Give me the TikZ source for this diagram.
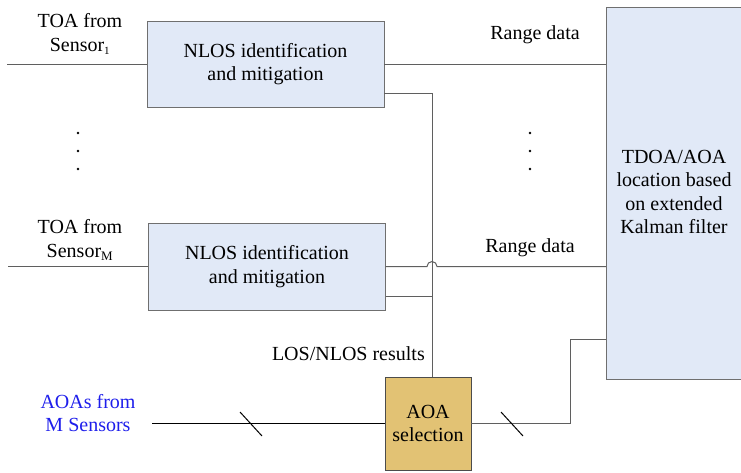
\documentclass[tikz,border=0pt]{standalone}
\usepackage{fontspec}
\setmainfont{Liberation Serif}
\usepackage{xcolor}
\definecolor{boxblue}{RGB}{225,233,247}
\definecolor{boxgold}{RGB}{226,194,116}
\definecolor{wire}{RGB}{95,95,95}
\definecolor{aoablue}{RGB}{30,30,235}
\begin{document}
\begin{tikzpicture}[x=1pt, y=-1pt,
    every node/.style={font=\fontsize{20}{23.5}\selectfont, inner sep=0pt, align=center},
    nlosbox/.style={draw=wire!90, fill=boxblue, minimum width=237pt, minimum height=86pt},
    wire/.style={draw=wire, line width=1pt}]
    \useasboundingbox (0,0) rectangle (741,472);
    \clip (0,0) rectangle (741,472);
    % processing blocks
    \node[nlosbox] (nlos1) at (265.5,64) {NLOS identification\\and mitigation};
    \node[nlosbox, minimum height=87pt] (nlosM) at (267,266.5) {NLOS identification\\and mitigation};
    \node[draw=wire!90, fill=boxblue, minimum width=150pt, minimum height=372pt] (ekf) at (681,193) {};
    \node at (674,192) {TDOA/AOA\\location based\\on extended\\Kalman filter};
    \node[draw=wire!80!black, fill=boxgold, minimum width=86pt, minimum height=93pt] (aoa) at (428,423.5) {AOA\\selection};
    % labels
    \node (toa1) at (80,34) {TOA from\\Sensor\textsubscript{\fontsize{11}{11}\selectfont 1}};
    \node (toaM) at (80,240) {TOA from\\Sensor\textsubscript{\fontsize{13}{13}\selectfont M}};
    \node (rng1) at (535,35) {Range data};
    \node (rngM) at (530,248) {Range data};
    \node[anchor=east] (losres) at (425,354) {LOS/NLOS results};
    \node[text=aoablue] (aoain) at (88,413) {AOAs from\\M Sensors};
    \foreach \y in {133,151,169} {
      \fill (78,\y) circle (1.3pt);
      \fill (530,\y) circle (1.3pt);
    }
    % connectors
    \coordinate (s1) at (7,64);
    \coordinate (sM) at (8,266.5);
    \coordinate (bus) at (432,93);
    \draw[wire] (s1) -- (nlos1.west);
    \draw[wire] (sM) -- (nlosM.west);
    \draw[wire] (nlos1.east) -- (nlos1.east -| ekf.west);
    \draw[wire] ([yshift=-29pt]nlos1.east) -- (bus) -- (bus |- aoa.north);
    \draw[wire] ([yshift=-29.5pt]nlosM.east) -- ([yshift=-29.5pt]nlosM.east -| bus);
    \draw[wire] (nlosM.east) -- (427,266.5) arc[start angle=180, end angle=0, radius=5pt]
      -- (nlosM.east -| ekf.west);
    \coordinate (aoaout) at (570,339);
    \draw[line width=1.6pt] (152,423.5) -- (aoa.west);
    \draw[wire] (aoa.east) -- (aoaout |- aoa.east) -- (aoaout) -- (aoaout -| ekf.west);
    \draw[line width=1pt] (240,412) -- (262,436);
    \draw[line width=1pt] (501,412) -- (523,436);
\end{tikzpicture}
\end{document}
